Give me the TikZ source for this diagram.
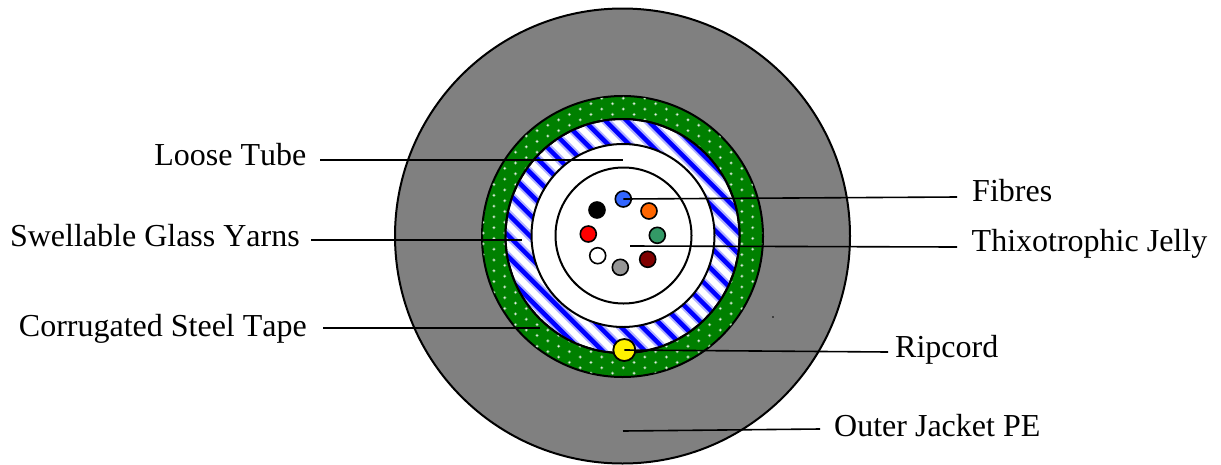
\documentclass[tikz,border=0pt]{standalone}
\usepackage{fontspec}
\setmainfont[Kerning=Off]{Liberation Serif}
\usepackage{xcolor}
\usetikzlibrary{positioning}
\definecolor{JacketGray}{RGB}{128,128,128}
\definecolor{TapeGreen}{RGB}{0,128,0}
\definecolor{YarnBlue}{RGB}{0,0,255}
\definecolor{FibreBlue}{RGB}{51,102,255}
\definecolor{FibreOrange}{RGB}{255,102,0}
\definecolor{FibreGreen}{RGB}{51,153,102}
\definecolor{FibreMaroon}{RGB}{128,0,0}
\definecolor{FibreGray}{RGB}{150,150,150}

\begin{document}
\begin{tikzpicture}[
  x=1pt, y=-1pt,
  every node/.style={font=\fontsize{32}{36}\selectfont},
  ring/.style={circle, draw=black, line width=2pt, inner sep=0pt, minimum size=#1},
  fibre/.style={circle, draw=black, line width=1.6pt, inner sep=0pt, minimum size=16pt, fill=#1},
  leftlabel/.style={anchor=east, inner ysep=0pt, text depth=8pt, inner xsep=#1},
  rightlabel/.style={anchor=west, inner ysep=0pt, text depth=8pt, inner xsep=#1},
  leader/.style={draw=black, line width=1.6pt}
]
\useasboundingbox[fill=white] (0,0) rectangle (1221,464);

% cable layers
\node[ring=455pt, fill=JacketGray] (jacket) at (622.5,236) {};
\node[ring=281pt, fill=TapeGreen] (tape) at (622.5,236.5) {};
\begin{scope}
  \clip (622.5,236.5) circle[radius=140pt];
  \foreach \col in {-13,...,13} {
    \foreach \row in {0,...,27} {
      \pgfmathsetmacro{\dotx}{623.3+10.78*\col}
      \pgfmathsetmacro{\doty}{98.3+10.78*\row+5.39*mod(abs(\col),2)}
      \fill[white!40!TapeGreen] (\dotx,\doty) circle[radius=1.8pt];
      \fill[white!90!TapeGreen] (\dotx,\doty) circle[radius=0.9pt];
    }
  }
\end{scope}
\node[ring=234pt, fill=white] (yarn) at (622.5,236) {};
\begin{scope}
  \clip (622.5,236) circle[radius=116.3pt];
  \foreach \k in {-2,...,15} {
    \pgfmathsetmacro{\off}{506-21.2*\k}
    \draw[YarnBlue!30, line width=8.5pt] (400,400-\off) -- (850,850-\off);
    \draw[YarnBlue, line width=4.5pt] (400,400-\off) -- (850,850-\off);
  }
\end{scope}
\node[ring=234pt] (yarnedge) at (622.5,236) {};
\node[ring=183pt, fill=white] (tube) at (623,235.5) {};
\node[ring=136pt, fill=white] (core) at (623.5,235.5) {};

% fibres
\node[fibre=FibreBlue] (fibreA) at (623.3,199) {};
\node[fibre=FibreOrange] (fibreB) at (649,211) {};
\node[fibre=FibreGreen] (fibreC) at (657.3,235.3) {};
\node[fibre=FibreMaroon] (fibreD) at (647.7,259.3) {};
\node[fibre=FibreGray] (fibreE) at (620.3,267.3) {};
\node[fibre=white] (fibreF) at (597.7,255.7) {};
\node[fibre=red] (fibreG) at (588.3,234) {};
\node[fibre=black] (fibreH) at (597,210) {};

\node[circle, draw=black, line width=1.8pt, inner sep=0pt, minimum size=22pt, fill=yellow] (ripcord) at (624.3,350) {};
\fill[black] (773,317) circle[radius=0.9pt];

% labels
\node[leftlabel=13.5pt, text height=18pt] (tubelabel) at (320,160) {Loose Tube};
\node[leftlabel=11pt, text height=21.4pt] (yarnlabel) at (311,240) {Swellable Glass Yarns};
\node[leftlabel=16pt, text height=24pt] (tapelabel) at (323,328) {Corrugated Steel Tape};
\node[rightlabel=15pt, text height=16pt] (fibreslabel) at (957,197) {Fibres};
\node[rightlabel=14.5pt, text height=17.4pt] (jellylabel) at (957,247) {Thixotrophic Jelly};
\node[rightlabel=7pt, text height=19.4pt] (ripcordlabel) at (888,352) {Ripcord};
\node[rightlabel=14pt, text height=23.4pt] (jacketlabel) at (820,429) {Outer Jacket PE};

\coordinate (tubeend) at (623,160);
\coordinate (yarnend) at (522,240);
\coordinate (tapeend) at (540,328);
\coordinate (jellyend) at (630,246);
\coordinate (jacketend) at (623,431);

\draw[leader] (tubelabel.east) -- (tubeend);
\draw[leader] (yarnlabel.east) -- (yarnend);
\draw[leader] (tapelabel.east) -- (tapeend);
\draw[leader] (fibreslabel.west) -- (fibreA.center);
\draw[leader] (jellylabel.west) -- (jellyend);
\draw[leader] (ripcordlabel.west) -- (ripcord.center);
\draw[leader] (jacketlabel.west) -- (jacketend);
\end{tikzpicture}
\end{document}
